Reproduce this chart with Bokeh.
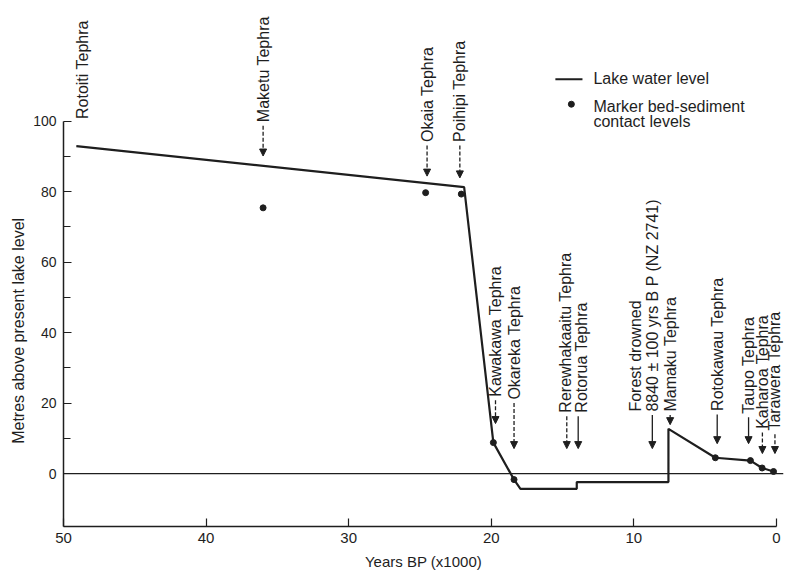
import math
from bokeh.plotting import figure
from bokeh.layouts import row
from bokeh.models import Range1d, FixedTicker, Arrow, NormalHead, ColumnDataSource, Span
from bokeh.core.properties import value
from bokeh.embed import file_html
from bokeh.resources import INLINE

FONT = "Liberation Sans"
INK = "#1e1e1e"

# Lake water level: years BP (x1000) and metres above present lake level
lake_years = [49.1, 21.9, 19.85, 18.4, 17.95, 14.0, 14.0, 7.57, 7.57, 4.28, 1.82, 1.0, 0.2]
lake_levels = [92.9, 81.3, 8.8, -1.7, -4.3, -4.3, -2.4, -2.4, 12.7, 4.5, 3.7, 1.6, 0.6]

# Marker bed-sediment contact levels
marker_years = [36.0, 24.6, 22.1, 19.85, 18.4, 4.28, 1.82, 1.0, 0.2]
marker_levels = [75.4, 79.7, 79.3, 8.8, -1.7, 4.5, 3.7, 1.6, 0.6]

# Tephra / event labels (rotated), anchored at the start of the text
label_text = ["Rotoiti Tephra", "Maketu Tephra", "Okaia Tephra", "Poihipi Tephra",
              "Kawakawa Tephra", "Okareka Tephra", "Rerewhakaaitu Tephra", "Rotorua Tephra",
              "Forest drowned", "8840 \u00b1 100 yrs B P (NZ 2741)", "Mamaku Tephra",
              "Rotokawau Tephra", "Taupo Tephra", "Kaharoa Tephra", "Tarawera Tephra"]
label_years = [48.7, 36.0, 24.5, 22.2, 19.7, 18.4, 14.8, 13.7, 9.9, 8.7, 7.45, 4.15, 1.95, 0.98, 0.1]
label_levels = [100.6, 99.7, 94.1, 94.1, 21.8, 21.0, 17.3, 17.3, 17.6, 17.6, 17.6, 17.8, 17.0, 12.7, 12.2]

# Arrows below labels
arrow_years = [36.0, 24.5, 22.2, 19.7, 18.4, 14.7, 13.9, 8.7, 7.45, 4.15, 1.95, 0.98, 0.1]
arrow_from = [98.7, 93.1, 93.1, 20.8, 20.0, 16.3, 16.3, 16.6, 16.6, 16.8, 16.0, 11.7, 11.2]
arrow_to = [90.1, 84.4, 83.9, 14.2, 7.1, 7.1, 7.1, 7.1, 13.9, 8.5, 8.5, 5.7, 5.7]
arrow_dashed = [True, True, True, True, True, True, False, False, False, False, False, True, True]

x_ticks = [50, 40, 30, 20, 10, 0]
y_ticks = [0, 20, 40, 60, 80, 100]
y_minor = [10, 30, 50, 70, 90]

y_title = "Metres above present lake level"
x_title = "Years BP (x1000)"

p = figure(frame_width=720, frame_height=518, x_range=Range1d(50, -0.5),
           y_range=Range1d(-15, 131.95),
           output_backend="svg", toolbar_location=None,
           min_border_left=33, min_border_right=2, min_border_top=8, min_border_bottom=46)
p.background_fill_color = "white"
p.border_fill_color = "white"
p.outline_line_color = None
p.xgrid.visible = False
p.ygrid.visible = False

for ax in (p.xaxis[0], p.yaxis[0]):
    ax.axis_line_color = INK
    ax.axis_line_width = 1.5
    ax.major_tick_line_color = INK
    ax.minor_tick_line_color = INK
    ax.major_tick_line_width = 1.2
    ax.minor_tick_line_width = 1.2
    ax.major_tick_in = 8
    ax.major_tick_out = 0
    ax.minor_tick_in = 7
    ax.minor_tick_out = 0
    ax.major_label_text_font = FONT
    ax.major_label_text_color = INK

p.xaxis[0].ticker = FixedTicker(ticks=x_ticks, minor_ticks=[])
p.xaxis[0].bounds = (0, 50)
p.xaxis[0].major_label_text_font_size = "15px"
p.xaxis[0].major_label_standoff = 6
p.xaxis[0].axis_label = x_title
p.xaxis[0].axis_label_text_font = FONT
p.xaxis[0].axis_label_text_font_size = "15px"
p.xaxis[0].axis_label_text_font_style = "normal"
p.xaxis[0].axis_label_text_color = INK
p.xaxis[0].axis_label_standoff = 7

p.yaxis[0].ticker = FixedTicker(ticks=y_ticks, minor_ticks=y_minor)
p.yaxis[0].bounds = (-15, 100)
p.yaxis[0].major_label_text_font_size = "14px"
p.yaxis[0].major_label_standoff = 7

p.add_layout(Span(location=0, dimension="width", line_color=INK, line_width=1.2))

p.line(lake_years, lake_levels, line_color=INK, line_width=2.2)
p.scatter(marker_years, marker_levels, size=6, color=INK)

p.text(x=label_years, y=label_levels, text=label_text, angle=math.pi / 2,
       text_align="left", text_baseline="middle", text_font=value(FONT),
       text_font_size="16px", text_color=INK)

for dashed in (True, False):
    idx = [i for i, d in enumerate(arrow_dashed) if d == dashed]
    src = ColumnDataSource(dict(x=[arrow_years[i] for i in idx],
                                y0=[arrow_from[i] for i in idx],
                                y1=[arrow_to[i] for i in idx]))
    p.add_layout(Arrow(source=src, x_start="x", y_start="y0", x_end="x", y_end="y1",
                       line_color=INK, line_width=1.3, line_dash="4 2" if dashed else "solid",
                       end=NormalHead(size=7, fill_color=INK, line_color=INK)))

# Legend (drawn manually, matching the original layout)
leg_line_x = [15.5, 13.6]
leg_line_y = [111.9, 111.9]
p.line(leg_line_x, leg_line_y, line_color=INK, line_width=2)
p.scatter([14.38], [104.8], size=6, color=INK)
p.text(x=[12.83, 12.83, 12.83], y=[112.2, 104.2, 99.9],
       text=["Lake water level", "Marker bed-sediment", "contact levels"],
       text_align="left", text_baseline="middle", text_font=value(FONT),
       text_font_size="16px", text_color=INK)

# Y-axis title in a narrow companion panel sharing the y range,
# so it can be centred on the axis span (-15..100) rather than on the frame
lab = figure(frame_width=30, frame_height=518, x_range=Range1d(0, 1), y_range=p.y_range,
             output_backend="svg", toolbar_location=None,
             x_axis_type=None, y_axis_type=None,
             min_border_left=0, min_border_right=0, min_border_top=8, min_border_bottom=46)
lab.outline_line_color = None
lab.background_fill_color = "white"
lab.border_fill_color = "white"
lab.text(x=[0.6], y=[40.5], text=[y_title], angle=math.pi / 2,
         text_align="center", text_baseline="middle", text_font=value(FONT),
         text_font_size="16px", text_color=INK)

layout = row(lab, p)
open("out.html", "w").write(file_html(layout, INLINE))
